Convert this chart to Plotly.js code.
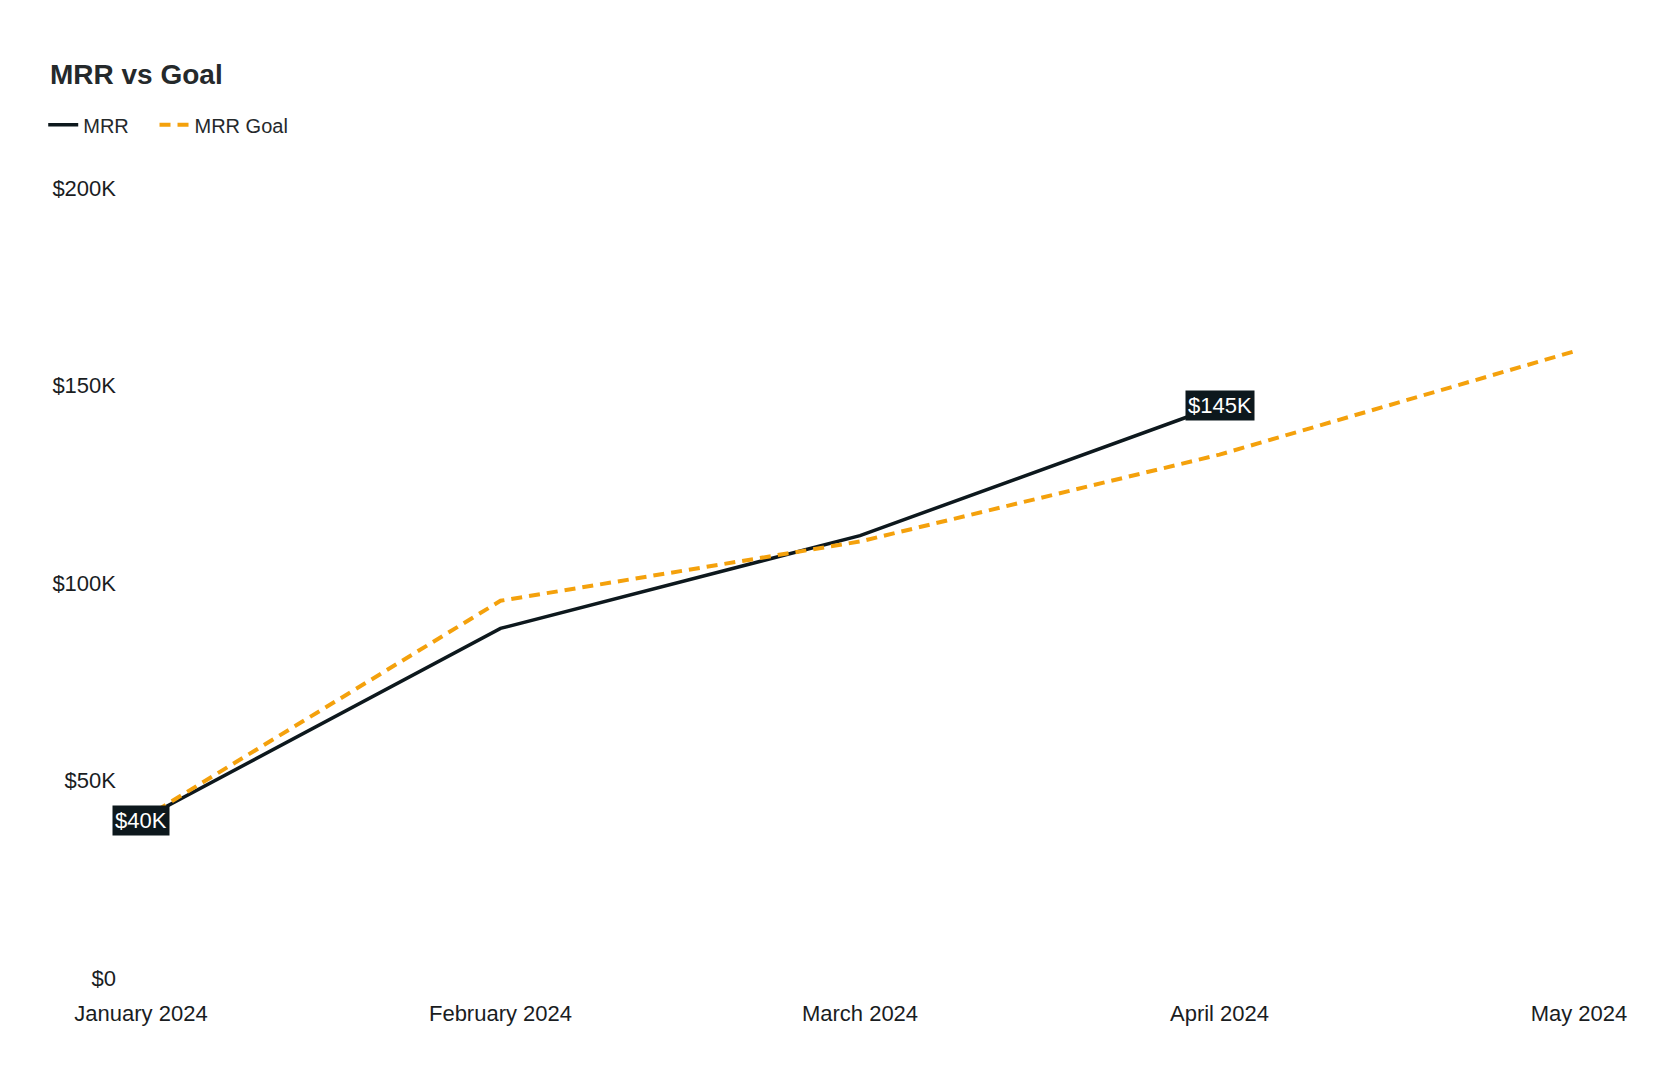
<!DOCTYPE html>
<html>
<head>
<meta charset="utf-8">
<script src="https://cdn.plot.ly/plotly-3.0.1.min.js"></script>
<style>
  html, body { margin: 0; padding: 0; background: #fff; }
  #chart { width: 1680px; height: 1080px; }
</style>
</head>
<body>
<div id="chart"></div>
<script>
// Months on the x axis
var months = ['January 2024', 'February 2024', 'March 2024', 'April 2024', 'May 2024'];
// Actual MRR (no value yet for May)
var mrr = [40000, 88500, 112000, 145000, null];
// MRR goal
var mrrGoal = [40000, 95500, 110500, 132500, 159000];
// y axis ticks
var yTicks = [0, 50000, 100000, 150000, 200000];
var yTickText = ['$0', '$50K', '$100K', '$150K', '$200K'];

var dark = '#0d181d';
var orange = '#f4a10c';
var fontFamily = '"Liberation Sans", Arial, sans-serif';

function money(v) {
    return '$' + Math.round(v / 1000) + 'K';
}

// first and last real MRR points get a label
var lastIdx = 0;
mrr.forEach(function (v, i) { if (v !== null) lastIdx = i; });

var traceMrr = {
    x: months,
    y: mrr,
    name: 'MRR',
    mode: 'lines',
    type: 'scatter',
    legend: 'legend',
    line: { color: dark, width: 3.5 }
};

var traceGoal = {
    x: months,
    y: mrrGoal,
    name: 'MRR Goal',
    mode: 'lines',
    type: 'scatter',
    legend: 'legend2',
    line: { color: orange, width: 4, dash: '11px,7px' }
};

var labels = [0, lastIdx].map(function (i) {
    return {
        x: months[i],
        y: mrr[i],
        text: money(mrr[i]),
        showarrow: false,
        bgcolor: dark,
        borderpad: 2,
        font: { family: fontFamily, size: 22, color: '#ffffff' }
    };
});

var legendFont = { family: fontFamily, size: 20, color: '#25292b' };
var legendY = 1.08;

var layout = {
    width: 1680,
    height: 1080,
    paper_bgcolor: '#fff',
    plot_bgcolor: '#fff',
    font: { family: fontFamily, size: 22, color: '#1a1d1f' },
    title: {
        text: 'MRR vs Goal',
        xref: 'container',
        yref: 'container',
        x: 50 / 1680,
        xanchor: 'left',
        y: 1 - 74 / 1080,
        yanchor: 'middle',
        font: { family: fontFamily, size: 28, weight: 700, color: '#25292b' }
    },
    showlegend: true,
    legend: {
        orientation: 'h',
        x: -0.068,
        xanchor: 'left',
        y: legendY,
        yanchor: 'middle',
        font: legendFont
    },
    legend2: {
        orientation: 'h',
        x: 0.0094,
        xanchor: 'left',
        y: legendY,
        yanchor: 'middle',
        font: legendFont
    },
    xaxis: {
        type: 'category',
        range: [0, 4],
        showgrid: false,
        zeroline: false,
        showline: false,
        ticks: '',
        ticklabelstandoff: 20,
        tickfont: { size: 22, color: '#1a1d1f' }
    },
    yaxis: {
        range: [0, 200000],
        tickvals: yTicks,
        ticktext: yTickText,
        showgrid: false,
        zeroline: false,
        showline: false,
        ticks: '',
        ticklabelstandoff: 24,
        tickfont: { size: 22, color: '#1a1d1f' }
    },
    annotations: labels,
    margin: { l: 141, r: 101, t: 188, b: 102 }
};

Plotly.newPlot('chart', [traceMrr, traceGoal], layout, { staticPlot: true });
</script>
</body>
</html>
